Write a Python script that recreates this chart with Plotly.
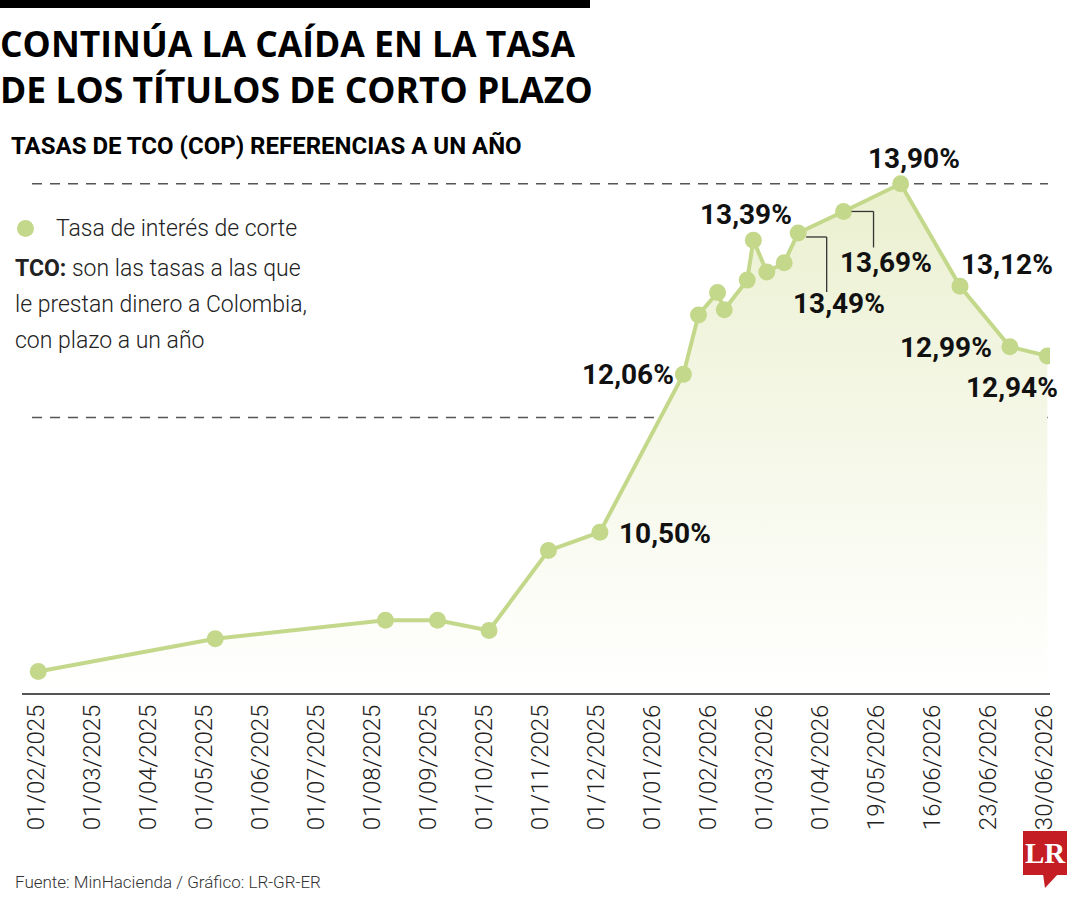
import plotly.graph_objects as go

# ---------------- data ----------------
tick_labels = ["01/02/2025", "01/03/2025", "01/04/2025", "01/05/2025", "01/06/2025",
               "01/07/2025", "01/08/2025", "01/09/2025", "01/10/2025", "01/11/2025",
               "01/12/2025", "01/01/2026", "01/02/2026", "01/03/2026", "01/04/2026",
               "19/05/2026", "16/06/2026", "23/06/2026", "30/06/2026"]
# position of each observation along the (evenly spaced) date labels
x_pos = [0.04, 3.20, 6.24, 7.17, 8.09, 9.15, 10.07, 11.56, 11.83, 12.17, 12.29,
         12.70, 12.81, 13.05, 13.36, 13.61, 14.42, 15.44, 16.50, 17.39, 18.06]
rates = [9.14, 9.46, 9.64, 9.64, 9.54, 10.32, 10.50, 12.04, 12.62, 12.84, 12.67,
         12.96, 13.35, 13.04, 13.13, 13.42, 13.63, 13.90, 12.90, 12.31, 12.22]
# labelled points: index into the series and the printed label
label_idx = [17, 12, 7, 6, 15, 16, 18, 19, 20]
label_txt = ["13,90%", "13,39%", "12,06%", "10,50%", "13,49%", "13,69%",
             "13,12%", "12,99%", "12,94%"]
ref_levels = [11.62, 13.90]
y_min, y_max = 8.93, 14.23

# ---------------- layout helpers ----------------
W, H = 1080, 900
ML, MR, MT, MB = 22, 30, 150, 207
PW, PH = W - ML - MR, H - MT - MB
def px(x):
    return (x - ML) / PW
def py(y):
    return (H - MB - y) / PH

GREEN = "#c4d88b"
FONT = "Roboto, sans-serif"

fig = go.Figure()
fig.add_trace(go.Scatter(
    x=x_pos, y=rates, mode="lines+markers",
    line=dict(color=GREEN, width=4),
    marker=dict(color=GREEN, size=17),
    fill="tozeroy",
    fillgradient=dict(type="vertical", start=y_min, stop=ref_levels[-1],
                      colorscale=[[0, "#ffffff"], [1, "#ebf0d0"]]),
    hoverinfo="skip", showlegend=False,
))

shapes = []
# dashed reference lines
for lv in ref_levels:
    shapes.append(dict(type="line", xref="paper", yref="y", x0=px(32), x1=px(1048),
                       y0=lv, y1=lv, line=dict(color="#555555", width=1.5, dash="10px,8px"),
                       layer="below"))
# top black bar
shapes.append(dict(type="rect", xref="paper", yref="paper", x0=px(0), x1=px(590),
                   y0=py(0), y1=py(8), fillcolor="#000000", line_width=0))

# leader lines (pixel offsets from the labelled points)
def leader(i, segs):
    for (x0, y0, x1, y1) in segs:
        shapes.append(dict(type="line", xref="x", yref="y",
                           xsizemode="pixel", ysizemode="pixel",
                           xanchor=x_pos[i], yanchor=rates[i],
                           x0=x0, x1=x1, y0=y0, y1=y1,
                           line=dict(color="#333333", width=1.3)))
leader(15, [(8, -4, 28.5, -4), (28.5, -4, 28.5, -59)])
leader(16, [(8, 0, 30, 0), (30, 0, 30, -36)])

# LR logo
shapes.append(dict(type="rect", xref="paper", yref="paper", x0=px(1023), x1=px(1067),
                   y0=py(875), y1=py(831), fillcolor="#c41e24", line_width=0))
shapes.append(dict(type="path", xref="paper", yref="paper",
                   path=f"M {px(1043)} {py(874)} L {px(1045)} {py(888)} L {px(1058)} {py(874)} Z",
                   fillcolor="#c41e24", line_width=0))
# legend dot
shapes.append(dict(type="circle", xref="paper", yref="paper",
                   x0=px(17), x1=px(34), y0=py(220), y1=py(237),
                   fillcolor=GREEN, line_width=0))

annotations = []
def txt(x, y, text, size, color="#111111", family=FONT, xanchor="left", weight=400):
    annotations.append(dict(xref="paper", yref="paper", x=px(x), y=py(y), text=text,
                            showarrow=False, xanchor=xanchor, yanchor="middle",
                            align="left", borderpad=0,
                            font=dict(size=size, color=color, family=family, weight=weight)))

txt(-1, 66, "CONTINÚA LA CAÍDA EN LA TASA<br>DE LOS TÍTULOS DE CORTO PLAZO", 35.5,
    "#000", "Open Sans", weight=700)
txt(10, 146, "TASAS DE TCO (COP) REFERENCIAS A UN AÑO", 24, "#000", weight=700)
txt(55, 228, "Tasa de interés de corte", 23, "#222", weight=300)
txt(14, 268, "<b>TCO:</b> son las tasas a las que", 23, "#222", weight=300)
txt(14, 304, "le prestan dinero a Colombia,", 23, "#222", weight=300)
txt(14, 340, "con plazo a un año", 23, "#222", weight=300)
txt(14, 882, "Fuente: MinHacienda / Gráfico: LR-GR-ER", 17, "#333", weight=300)
txt(1045, 853, "<b>LR</b>", 29, "#ffffff", "Liberation Serif, DejaVu Serif, serif", xanchor="center")

# data labels, pixel offsets relative to their points
offsets = [(13, 25), (-7, 26), (-55, 0), (65, -1), (41, -71), (42, -51),
           (47, 22), (-64, -1), (-35, -32)]
for i, t, (dx, dy) in zip(label_idx, label_txt, offsets):
    annotations.append(dict(x=x_pos[i], y=rates[i], xref="x", yref="y", text=t,
                            showarrow=False, xshift=dx, yshift=dy,
                            xanchor="center", yanchor="middle",
                            font=dict(size=28, color="#111111", family=FONT, weight=700)))

fig.update_layout(
    width=W, height=H, margin=dict(l=ML, r=MR, t=MT, b=MB),
    paper_bgcolor="#ffffff", plot_bgcolor="rgba(0,0,0,0)",
    shapes=shapes, annotations=annotations,
    xaxis=dict(range=[-0.25, 18.107], tickvals=list(range(len(tick_labels))),
               ticktext=tick_labels, tickangle=-90, showgrid=False, zeroline=False,
               showline=True, linecolor="#555555", linewidth=2, ticks="",
               tickfont=dict(size=24, color="#222222", family=FONT, weight=300),
               fixedrange=True),
    yaxis=dict(range=[y_min, y_max], visible=False, showgrid=False, zeroline=False,
               fixedrange=True),
)

fig.write_html("out.html")
